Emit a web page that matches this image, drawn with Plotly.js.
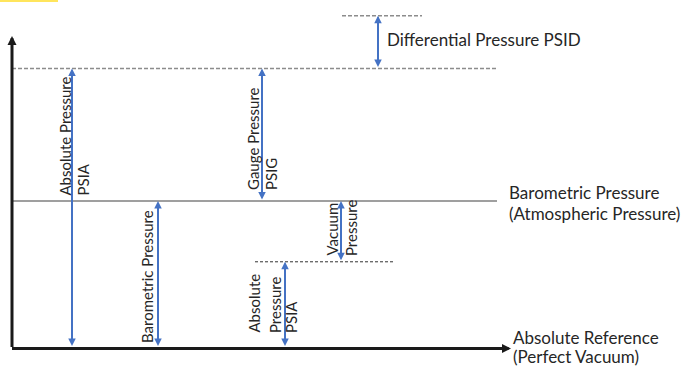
<!DOCTYPE html>
<html><head><meta charset="utf-8">
<script src="https://cdn.plot.ly/plotly-3.0.1.min.js"></script>
<style>html,body{margin:0;padding:0;background:#fff}#chart{width:685px;height:372px}</style>
</head><body><div id="chart"></div>
<script>
// ---- Data: pressure levels (psia) ----
const levelNames  = ["Absolute Reference", "Vacuum Level", "Barometric Pressure", "Gauge Level", "Differential Level"];
const levelValues = [0, 8.6, 14.7, 28.0, 33.3];

// ---- Data: measured spans (psia) ----
const spanNames = ["Absolute Pressure PSIA", "Gauge Pressure PSIG", "Barometric Pressure",
                   "Vacuum Pressure", "Absolute Pressure PSIA (low)", "Differential Pressure PSID"];
const spanFrom  = [0,    14.7, 0,    8.6,  0,   28.0];
const spanTo    = [28.0, 28.0, 14.7, 14.7, 8.6, 33.3];

// ---- Text labels ----
const rightLabels = ["Differential Pressure PSID", "Barometric Pressure", "(Atmospheric Pressure)",
                     "Absolute Reference", "(Perfect Vacuum)"];
const spanLabels = ["Absolute Pressure", "PSIA", "Gauge Pressure", "PSIG", "Barometric Pressure",
                    "Vacuum", "Pressure", "Absolute", "Pressure", "PSIA"];

// ---- Layout geometry (pixels) ----
const W = 685, H = 372;
const zeroPx = 347.5, pxPerUnit = 9.966;
const toVal = p => (zeroPx - p) / pxPerUnit;   // pixel row -> psia on the y axis
const toPaper = p => 1 - p / H;

const arrowX = [72, 262, 158, 341, 285, 378];
const blue = '#4472C4', grey = '#8c8c8c', ink = '#262626';
const FONT = 'Lato, "Liberation Sans", sans-serif';

const shapes = [];
const annotations = [];

// yellow strip top-left
shapes.push({type:'rect', xref:'x', yref:'paper', x0:0, x1:58, y0:toPaper(2), y1:1,
  fillcolor:'#FFE55C', line:{width:0}});

// level lines
const lvAbs = levelValues[0], lvVac = levelValues[1], lvBaro = levelValues[2],
      lvGauge = levelValues[3], lvDiff = levelValues[4];
shapes.push({type:'line', xref:'x', yref:'y', x0:12, x1:497, y0:lvGauge, y1:lvGauge,
  line:{color:grey, width:1.5, dash:'4px,2px'}});
shapes.push({type:'line', xref:'x', yref:'y', x0:342, x1:422, y0:lvDiff, y1:lvDiff,
  line:{color:grey, width:1.5, dash:'4px,2px'}});
shapes.push({type:'line', xref:'x', yref:'y', x0:12, x1:497, y0:lvBaro, y1:lvBaro,
  line:{color:'#7f7f7f', width:1.5}});
shapes.push({type:'line', xref:'x', yref:'y', x0:255, x1:395, y0:lvVac, y1:lvVac,
  line:{color:'#333333', width:1, dash:'3px,2px'}});

// axes arrows (black)
const axisArrow = {showarrow:true, text:'', axref:'x', ayref:'y', xref:'x', yref:'y',
  arrowhead:2, arrowsize:0.6, arrowwidth:3, arrowcolor:'#1a1a1a', standoff:0};
annotations.push(Object.assign({}, axisArrow, {x:12, y:toVal(36), ax:12, ay:toVal(348.5)}));
annotations.push(Object.assign({}, axisArrow, {x:511, y:toVal(348.5), ax:10.5, ay:toVal(348.5)}));

// span arrows (blue, double-headed)
for (let i = 0; i < spanNames.length; i++) {
  annotations.push({showarrow:true, text:'', xref:'x', yref:'y', axref:'x', ayref:'y',
    x:arrowX[i], y:spanTo[i], ax:arrowX[i], ay:spanFrom[i],
    arrowside:'end+start', arrowhead:2, startarrowhead:2, arrowsize:0.75, startarrowsize:0.75,
    arrowwidth:2, arrowcolor:blue, standoff:0, startstandoff:0});
}

// right-side labels  [x left, y middle px]
const rightPos = [[385, 39], [507, 192], [507, 213], [511, 337.5], [511, 356]];
rightLabels.forEach((t, i) => {
  annotations.push({text:t, showarrow:false, xref:'x', yref:'paper', x:rightPos[i][0], y:toPaper(rightPos[i][1]),
    xanchor:'left', yanchor:'middle', font:{family:FONT, size:17, color:ink}});
});

// rotated span labels  [x centre, y bottom px]
const spanPos = [[64,198],[82.5,198],[252.5,192],[271,192],[146.5,345],[331,258],[351,258],[253,335],[275,335],[291,335]];
spanLabels.forEach((t, i) => {
  annotations.push({text:t, showarrow:false, textangle:-90, xref:'x', yref:'paper',
    x:spanPos[i][0], y:toPaper(spanPos[i][1]), xanchor:'center', yanchor:'bottom',
    font:{family:FONT, size:15, color:ink}});
});

const layout = {
  width:W, height:H, margin:{l:0, r:0, t:0, b:0},
  paper_bgcolor:'#fff', plot_bgcolor:'#fff', showlegend:false,
  xaxis:{range:[0, W], visible:false, fixedrange:true},
  yaxis:{range:[toVal(H), toVal(0)], visible:false, fixedrange:true},
  shapes, annotations
};
const trace = {type:'scatter', mode:'markers', x:levelValues.map(()=>-100), y:levelValues,
  name:'levels', text:levelNames, hoverinfo:'skip', marker:{opacity:0}};
Plotly.newPlot('chart', [trace], layout, {displayModeBar:false, staticPlot:true});
</script></body></html>
